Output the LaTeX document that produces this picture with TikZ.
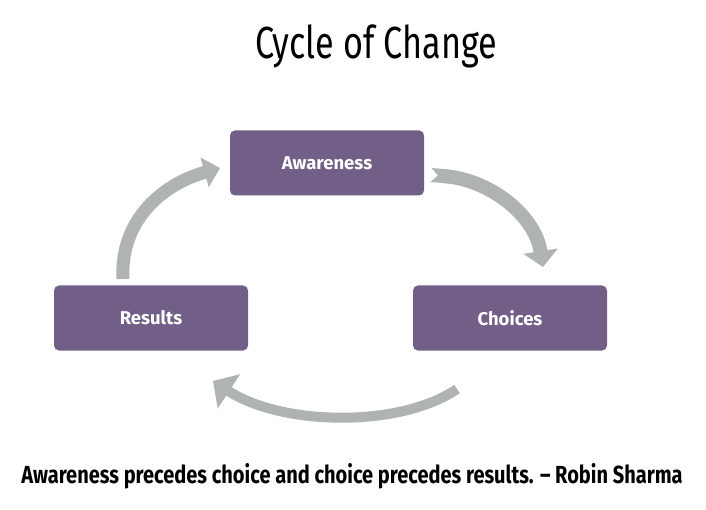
\documentclass[tikz,border=0pt]{standalone}
\usepackage{fontspec}
\setmainfont{Fira Sans}
\newfontfamily\titlefont{Fira Sans}[FakeStretch=0.76]
\newfontfamily\quotefont{Fira Sans}[FakeStretch=0.81]
\usepackage{xcolor}
\usetikzlibrary{positioning,arrows.meta}
\definecolor{boxpurple}{HTML}{715F88}
\definecolor{arrowgray}{HTML}{B0B3B3}

\tikzset{
  stagebox/.style={draw=none, fill=boxpurple, rounded corners=5pt, minimum width=194pt,
    minimum height=65pt, inner sep=0pt, text=white, font=\fontsize{18.5pt}{22pt}\selectfont\bfseries},
  cyclearrow/.style={draw=arrowgray, line width=#1, {Triangle Cap[reversed]}-{Triangle[length=16pt,width=34pt]}}
}

\begin{document}
\begin{tikzpicture}[x=1pt, y=-1pt]
  \useasboundingbox (0, 0) rectangle (706, 510);

  % Title
  \node (title) at (376, 46) {\titlefont\fontsize{45pt}{50pt}\selectfont Cycle of Change};

  % Stages
  \node[stagebox] (aware) at (327, 163) {Awareness};
  \node[stagebox] (choice) at (510, 318) {Choices};
  \node[stagebox] (result) at (151, 318) {Results};

  % Arrow ends
  \coordinate (a1) at (431, 175);
  \coordinate (a2) at (543, 267);
  \coordinate (b1) at (457, 389);
  \coordinate (b2) at (213, 381);
  \coordinate (c1) at (123, 279);
  \coordinate (c2) at (220, 168);

  % Arrows
  \draw[cyclearrow=14pt] (a1) .. controls (490, 180) and (535, 215) .. (a2);
  \draw[cyclearrow=10pt, -{Triangle[length=19pt,width=40pt]}] (b1) .. controls (400, 428) and (282, 426) .. (b2);
  \draw[cyclearrow=13pt, -{Triangle[length=16pt,width=30pt]}] (c1) .. controls (120, 222) and (160, 185) .. (c2);

  % Quote
  \node (quote) at (352, 476) {\quotefont\fontsize{24.7pt}{28pt}\selectfont\bfseries Awareness precedes choice and choice precedes results. – Robin Sharma};
\end{tikzpicture}
\end{document}
